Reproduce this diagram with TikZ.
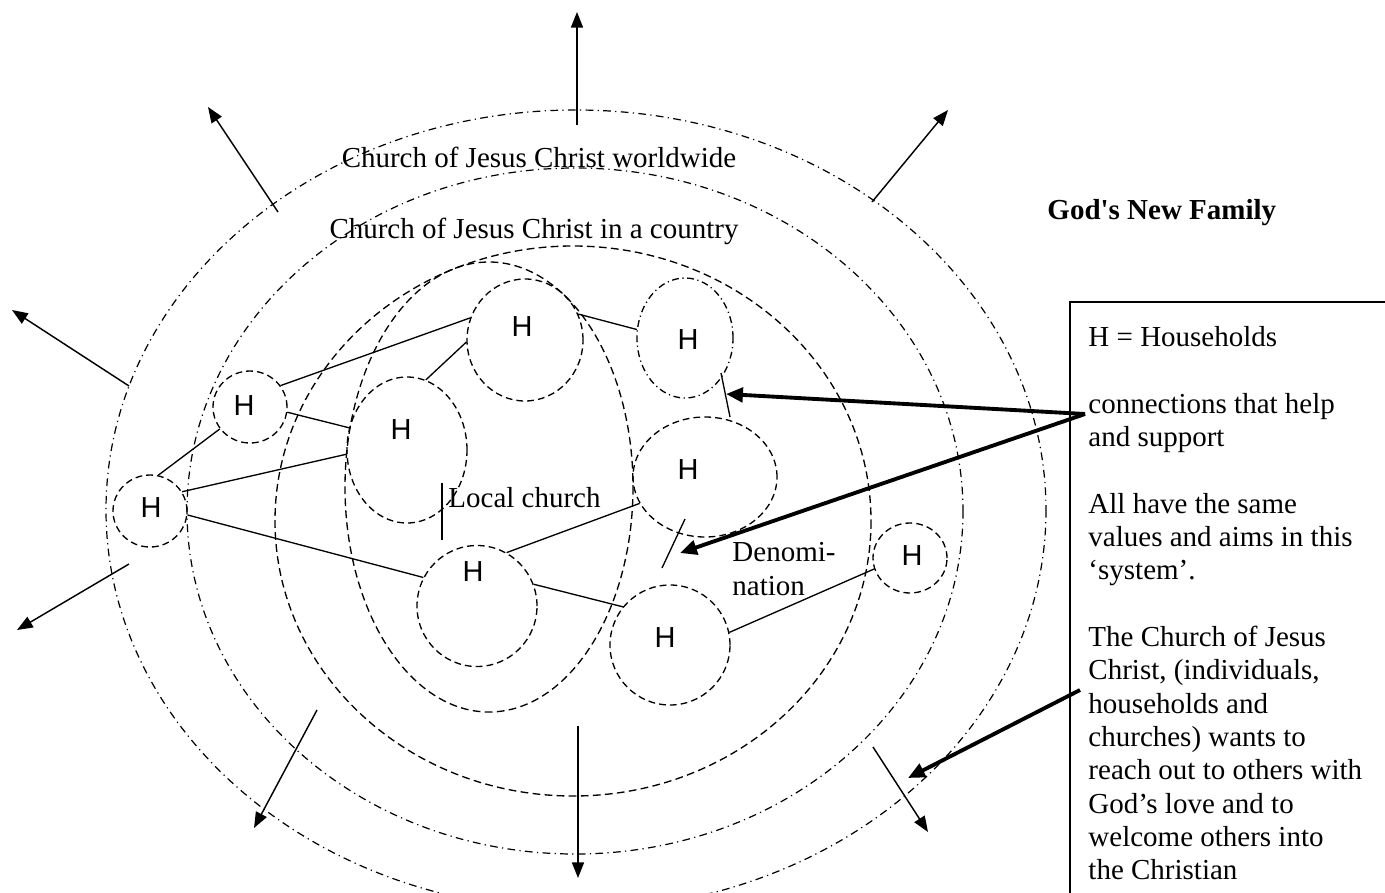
\documentclass[tikz,border=0pt]{standalone}
\usepackage{fontspec}
\setmainfont{Liberation Serif}
\newfontfamily\hfont{Liberation Sans}
\newfontfamily\titlefont{Liberation Serif}
\usetikzlibrary{calc,positioning,shapes.geometric,arrows.meta}
\tikzset{
  ring/.style={line width=0.5pt, dash pattern=on 3.2pt off 1.8pt on 0.5pt off 1.8pt},
  ringdash/.style={line width=0.55pt, dash pattern=on 3.2pt off 1.8pt},
  house/.style={ellipse, draw, line width=0.55pt, dash pattern=on 2.8pt off 1.7pt, inner sep=0pt},
  housedd/.style={house, dash pattern=on 2.8pt off 1.5pt on 0.5pt off 1.5pt},
  hlab/.style={font=\hfont\fontsize{12}{14}\selectfont, inner sep=0pt},
  link/.style={line width=0.55pt},
  outarrow/.style={line width=0.6pt, -{Triangle[length=6.5pt,width=5pt]}},
  thickarrow/.style={line width=1.6pt, -{Triangle[length=7pt,width=6pt]}},
  txt/.style={font=\fontsize{12}{13.8}\selectfont, inner sep=0pt},
}

\begin{document}
\begin{tikzpicture}[x=0.414pt,y=-0.414pt]
        \useasboundingbox (0,0) rectangle (1385,892);
        \fill[white] (0,0) rectangle (1385,892);
        \clip (0,0) rectangle (1385,892);

        % church rings
        \draw[ring] (576,510) ellipse [x radius=470, y radius=400];
        \draw[ring] (575,511) ellipse [x radius=388, y radius=343];
        \draw[ringdash] (573,521) ellipse [x radius=298, y radius=275];
        \draw[ringdash] (489,487) ellipse [x radius=144, y radius=225];

        % households
        \foreach \n/\x/\y/\w/\h/\s/\dx/\dy in {h1/525/340/116/122/house/-3/-13,
            h2/685/338/96/120/housedd/3/2, h3/250/407/74/72/house/-6/-1,
            h4/407/450/120/146/house/-6/-20, h5/150/511/74/72/house/1/-3,
            h6/705/477/144/120/house/-17/-7, h7/477/606/120/121/house/-4/-34,
            h8/670/645/120/120/house/-5/-7, h9/910/558/74/70/house/2/-2}{
            \node[\s, minimum width=\w*0.414pt, minimum height=\h*0.414pt] (\n) at (\x,\y) {};
            \node[hlab] (\n lab) at ($(\n)+(\dx,\dy)$) {H};
        }

        \foreach \a/\b in {h3.35/h1.158, h3.352/h4.159, h4.75/h1.182, h1.26/h2.170,
            h5.77/h3.216, h5.31/h4.184, h5.354/h7.152, h7.61/h6.202,
            h7.21/h8.141, h8.12/h9.197}{
            \draw[link] (\a) -- (\b);
        }

        % marks
        \coordinate (markhelp) at (726,394);
        \coordinate (markden) at (680,553);
        \coordinate (markring) at (908,778);
        \draw[link] (721,373) -- (730,417);
        \draw[link] (685,519) -- (662,568);
        \draw[link] (442,483) -- (442,540);

        \foreach \xa/\ya/\xb/\yb in {577/125/577/12, 872/202/948/110, 278/212/208/107,
            129/386/12/310, 129/564/17/630, 317/710/254/828, 578/726/578/878,
            873/747/928/832}{
            \draw[outarrow] (\xa,\ya) -- (\xb,\yb);
        }

        \node[txt, anchor=base] (world) at (539,167) {Church of Jesus Christ worldwide};
        \node[txt, anchor=base] (country) at (534,238) {Church of Jesus Christ in a country};
        \node[txt, anchor=base west] (local) at (448,507) {Local church};
        \node[txt, anchor=west, align=left] (denom) at (732,569) {Denomi-\\nation};
        \node[txt, anchor=base west, font=\titlefont\fontsize{12}{13.8}\selectfont\bfseries] (title) at (1047,219) {God's New Family};

        % legend
        \draw[line width=0.8pt] (1070,302) rectangle (1430,930);
        \node[txt, anchor=north west, align=left] (legend) at (1088,326) {H = Households\\[13.8pt]
            connections that help\\
            and support\\[13.8pt]
            All have the same\\
            values and aims in this\\
            ‘system’.\\[13.8pt]
            The Church of Jesus\\
            Christ, (individuals,\\
            households and\\
            churches) wants to\\
            reach out to others with\\
            God’s love and to\\
            welcome others into\\
            the Christian};

        \coordinate (helpfrom) at (1085,414);
        \coordinate (reachfrom) at (1080,690);
        \draw[thickarrow] (helpfrom) -- (markhelp);
        \draw[thickarrow] (helpfrom) -- (markden);
        \draw[thickarrow] (reachfrom) -- (markring);
\end{tikzpicture}
\end{document}
